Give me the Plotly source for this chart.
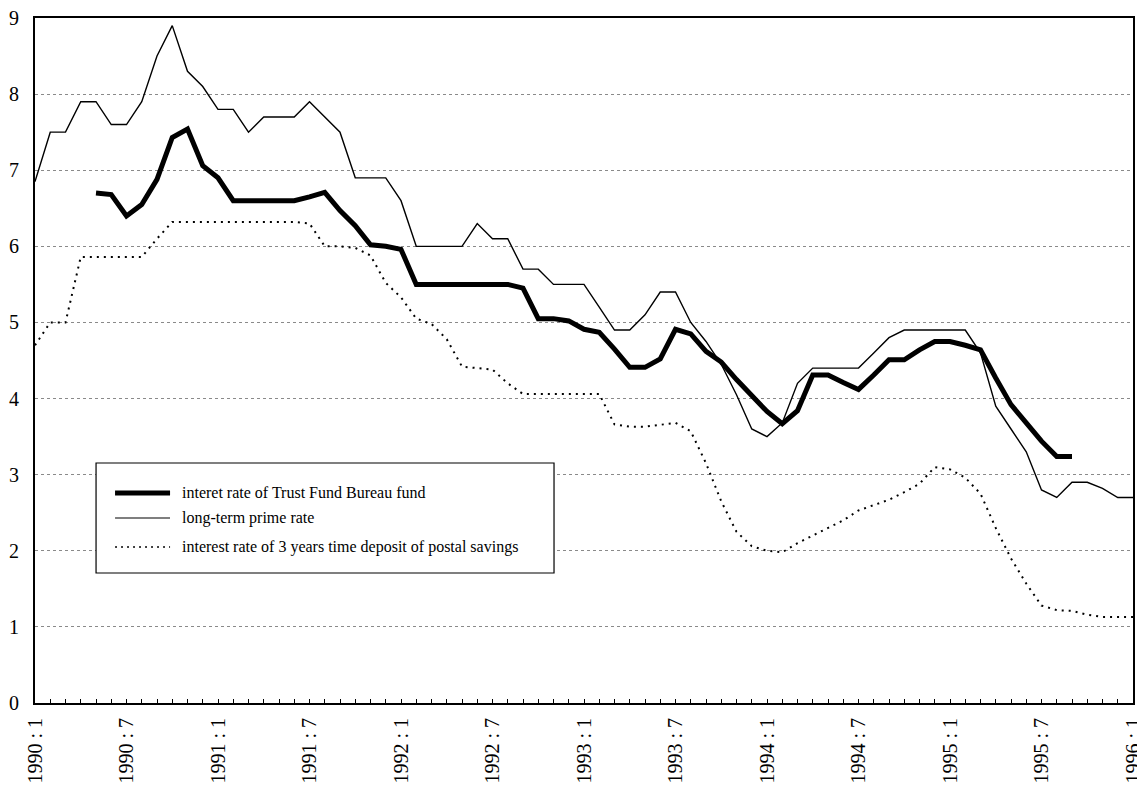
import plotly.graph_objects as go

# month index 0 = 1990:1 ... 72 = 1996:1
months = list(range(73))

tick_months = [0, 6, 12, 18, 24, 30, 36, 42, 48, 54, 60, 66, 72]
tick_labels = ["1990 : 1", "1990 : 7", "1991 : 1", "1991 : 7", "1992 : 1", "1992 : 7",
               "1993 : 1", "1993 : 7", "1994 : 1", "1994 : 7", "1995 : 1", "1995 : 7",
               "1996 : 1"]

trust_fund = [None, None, None, None,
              6.7, 6.68, 6.4, 6.55, 6.88, 7.43,
              7.54, 7.06, 6.9, 6.6, 6.6, 6.6, 6.6, 6.6, 6.65, 6.71,
              6.47, 6.27, 6.02, 6.0, 5.96, 5.5, 5.5, 5.5, 5.5, 5.5,
              5.5, 5.5, 5.45, 5.05, 5.05, 5.02, 4.91, 4.87, 4.65, 4.41,
              4.41, 4.52, 4.91, 4.85, 4.62, 4.48, 4.25, 4.03, 3.83, 3.67,
              3.84, 4.31, 4.31, 4.21, 4.12, 4.31, 4.51, 4.51, 4.64, 4.75,
              4.75, 4.7, 4.64, 4.27, 3.92, 3.68, 3.44, 3.24, 3.24,
              None, None, None, None]

prime_rate = [6.85, 7.5, 7.5, 7.9, 7.9, 7.6, 7.6, 7.9, 8.5, 8.9,
              8.3, 8.1, 7.8, 7.8, 7.5, 7.7, 7.7, 7.7, 7.9, 7.7,
              7.5, 6.9, 6.9, 6.9, 6.6, 6.0, 6.0, 6.0, 6.0, 6.3,
              6.1, 6.1, 5.7, 5.7, 5.5, 5.5, 5.5, 5.2, 4.9, 4.9,
              5.1, 5.4, 5.4, 5.0, 4.75, 4.45, 4.05, 3.6, 3.5, 3.68,
              4.2, 4.4, 4.4, 4.4, 4.4, 4.6, 4.8, 4.9, 4.9, 4.9,
              4.9, 4.9, 4.6, 3.9, 3.6, 3.3, 2.8, 2.7, 2.9, 2.9,
              2.82, 2.7, 2.7]

postal_savings = [4.7, 5.0, 5.0, 5.86, 5.86, 5.86, 5.86, 5.86, 6.1, 6.32,
                  6.32, 6.32, 6.32, 6.32, 6.32, 6.32, 6.32, 6.32, 6.3, 6.0,
                  6.0, 5.98, 5.88, 5.52, 5.33, 5.05, 4.98, 4.78, 4.42, 4.4,
                  4.38, 4.2, 4.06, 4.06, 4.06, 4.06, 4.06, 4.06, 3.66, 3.63,
                  3.63, 3.65, 3.68, 3.57, 3.15, 2.65, 2.25, 2.06, 2.0, 1.98,
                  2.1, 2.2, 2.3, 2.4, 2.53, 2.6, 2.67, 2.77, 2.88, 3.1,
                  3.07, 2.96, 2.75, 2.3, 1.9, 1.57, 1.28, 1.22, 1.21, 1.16,
                  1.13, 1.13, 1.13]

legend_names = ["interet rate of Trust Fund Bureau fund",
                "long-term prime rate",
                "interest rate of 3 years time deposit of postal savings"]

FONT = "Liberation Serif"

fig = go.Figure()
fig.add_trace(go.Scatter(x=months, y=prime_rate, mode="lines", name=legend_names[1],
                         line=dict(color="black", width=1.4), showlegend=False))
fig.add_trace(go.Scatter(x=months, y=postal_savings, mode="lines", name=legend_names[2],
                         line=dict(color="black", width=2, dash="2px,5px"), showlegend=False))
fig.add_trace(go.Scatter(x=months, y=trust_fund, mode="lines", name=legend_names[0],
                         line=dict(color="black", width=5), showlegend=False))

# manual legend box (paper coordinates)
box = dict(x0=0.0556, x1=0.4727, y0=0.1898, y1=0.3504)
fig.add_shape(type="rect", xref="paper", yref="paper", **box,
              line=dict(color="black", width=1.2), fillcolor="white", layer="above")
rows = [0.3066, 0.2701, 0.2277]
styles = [dict(color="black", width=5), dict(color="black", width=1.2),
          dict(color="black", width=1.5, dash="2px,4px")]
for yy, st, name in zip(rows, styles, legend_names):
    fig.add_shape(type="line", xref="paper", yref="paper", x0=0.0729, x1=0.1230,
                  y0=yy, y1=yy, line=st, layer="above")
    fig.add_annotation(xref="paper", yref="paper", x=0.1321, y=yy, text=name,
                       showarrow=False, xanchor="left", yanchor="middle",
                       font=dict(family=FONT, size=16, color="black"))

fig.update_layout(
    width=1137, height=794,
    margin=dict(l=35, r=4, t=18, b=91),
    plot_bgcolor="white", paper_bgcolor="white",
    font=dict(family=FONT, color="black"),
)
fig.update_xaxes(
    range=[0, 72], tickmode="array", tickvals=tick_months, ticktext=tick_labels,
    tickangle=-90, tickfont=dict(family=FONT, size=20, color="black"),
    ticks="inside", ticklen=4, tickcolor="black",
    minor=dict(ticks="inside", ticklen=4, dtick=1, tick0=0, tickcolor="black"),
    showline=True, linecolor="black", linewidth=2, mirror=True,
    showgrid=False, zeroline=False, ticklabelstandoff=5, automargin=False,
    ticklabeloverflow="allow",
)
fig.update_yaxes(
    range=[0, 9], dtick=1, tickfont=dict(family=FONT, size=20, color="black"),
    showline=True, linecolor="black", linewidth=2, mirror=True,
    showgrid=True, gridcolor="#8a8a8a", gridwidth=1, griddash="dot",
    zeroline=False, ticks="", ticklabelstandoff=10, automargin=False,
)

fig.write_html("out.html", config={"displayModeBar": False},
               post_script="document.body.style.margin='0';document.body.style.overflow='hidden';")
